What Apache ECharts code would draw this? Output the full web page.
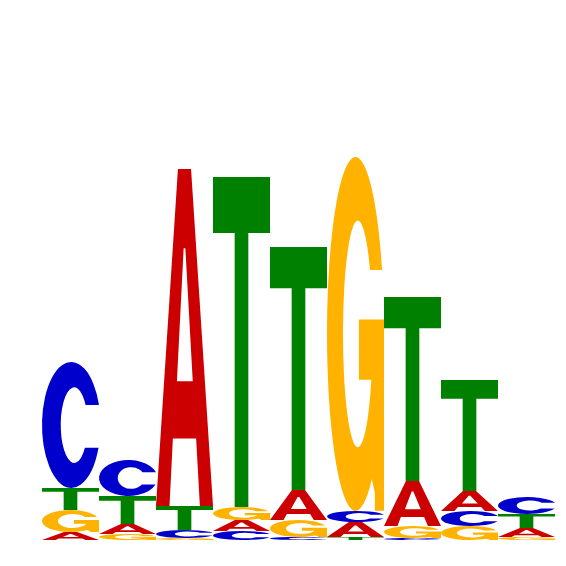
<!DOCTYPE html>
<html>
<head>
<meta charset="utf-8">
<script src="https://cdn.jsdelivr.net/npm/echarts@6/dist/echarts.min.js"></script>
<style>
  html, body { margin: 0; padding: 0; background: #fff; }
  #main { width: 566px; height: 566px; }
</style>
</head>
<body>
<div id="main"></div>
<script>
var myChart = echarts.init(document.getElementById('main'), null, {renderer: 'canvas'});

// positions of the motif
var positions = ['1', '2', '3', '4', '5', '6', '7', '8', '9'];
// letter heights in bits, per position
var heightA = [0.032, 0.040, 1.348, 0.044, 0.120, 0.060, 0.180, 0.080, 0.036];
var heightC = [0.504, 0.144, 0.032, 0.036, 0.012, 0.044, 0.008, 0.060, 0.068];
var heightG = [0.088, 0.024, 0.008, 0.052, 0.068, 1.416, 0.048, 0.056, 0.012];
var heightT = [0.088, 0.112, 0.096, 1.320, 0.972, 0.012, 0.736, 0.444, 0.056];
// stacking order, bottom to top
var stackOrder = ['AGTC', 'GATC', 'GCTA', 'CAGT', 'CGAT', 'TACG', 'CGAT', 'GCAT', 'GATC'];

var letters = ['A', 'C', 'G', 'T'];
var colors = {A: '#CC0000', C: '#0000CC', G: '#FFB300', T: '#008000'};
var heights = {A: heightA, C: heightC, G: heightG, T: heightT};

// glyph outlines in a 100x100 box, stretched to each cell
var glyphs = {
    A: 'M0 100 L38.5 0 L61.5 0 L100 100 L77 100 L70.4 80 L29.6 80 L23.7 100 Z M48.5 23.5 L36.7 63 L64.5 63 L51.5 23.5 Z',
    C: 'M97.4 34 A50 50 0 1 0 96.6 68 L73.4 68 A23 30 0 1 1 74.5 34 Z',
    G: 'M96.6 32 A50 50 0 1 0 78.7 91 L84 95 L84 100 L100 100 L100 46 L56 46 L56 63 L77.8 63 A26 32 0 1 1 75.5 32 Z',
    T: 'M0 0 L100 0 L100 17 L62 17 L62 100 L38 100 L38 17 L0 17 Z'
};

// build stacked cells: [position, base, height, letter index]
var cells = [];
for (var i = 0; i < positions.length; i++) {
    var base = 0;
    var order = stackOrder[i];
    for (var j = 0; j < order.length; j++) {
        var l = order.charAt(j);
        var h = heights[l][i];
        cells.push([i, base, h, letters.indexOf(l)]);
        base += h;
    }
}

function renderLetter(params, api) {
    var x = api.value(0);
    var base = api.value(1);
    var h = api.value(2);
    var letter = letters[api.value(3)];
    var bottom = api.coord([x, base]);
    var top = api.coord([x, base + h]);
    var w = api.size([1, 0])[0];
    return {
        type: 'path',
        shape: {
            pathData: glyphs[letter],
            x: bottom[0] - w / 2,
            y: top[1],
            width: w,
            height: bottom[1] - top[1],
            layout: 'cover'
        },
        style: {
            fill: colors[letter]
        }
    };
}

var option = {
    backgroundColor: '#ffffff',
    animation: false,
    grid: {
        left: 42,
        right: 11,
        top: 40,
        bottom: 26
    },
    xAxis: {
        type: 'category',
        data: positions,
        show: false
    },
    yAxis: {
        type: 'value',
        min: 0,
        max: 2,
        show: false
    },
    series: [{
        type: 'custom',
        renderItem: renderLetter,
        encode: {x: 0, y: [1, 2]},
        data: cells
    }]
};

myChart.setOption(option);
</script>
</body>
</html>
